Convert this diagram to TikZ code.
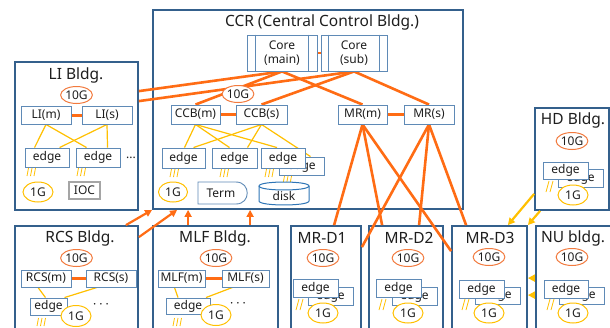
\documentclass[tikz,border=0pt]{standalone}
\usepackage{fontspec}
\setmainfont{Noto Sans}
\usetikzlibrary{shapes.geometric,arrows.meta,calc}
\definecolor{bldblue}{RGB}{52,96,140}
\definecolor{boxblue}{RGB}{95,138,182}
\definecolor{orng}{RGB}{255,108,20}
\definecolor{or10}{RGB}{242,122,62}
\definecolor{gold}{RGB}{255,192,0}
\definecolor{diskblue}{RGB}{46,117,182}
\definecolor{iocgray}{RGB}{165,165,165}
\definecolor{txt}{RGB}{30,30,30}
\pgfdeclarelayer{bldg}
\pgfdeclarelayer{lines}
\pgfsetlayers{bldg,lines,main}
\begin{document}
\begin{tikzpicture}[x=1pt,y=-1pt,
  bld/.style={draw=bldblue, line width=1.8pt, fill=white, inner sep=0pt},
  sbox/.style={draw=boxblue, line width=0.9pt, fill=white, inner sep=0pt, text=txt, font=\fontsize{12}{13}\selectfont},
  ttl/.style={inner sep=0pt, text=txt, font=\fontsize{15.5}{17}\selectfont},
  lbl/.style={inner sep=0pt, text=txt, font=\fontsize{12}{13}\selectfont},
  g10/.style={ellipse, draw=or10, line width=1pt, fill=white, minimum width=30pt, minimum height=17pt, inner sep=0pt, text=txt, font=\fontsize{12}{13}\selectfont},
  g1/.style={ellipse, draw=gold, line width=1pt, fill=white, minimum width=30pt, minimum height=20pt, inner sep=0pt, text=txt, font=\fontsize{12}{13}\selectfont},
  oline/.style={draw=orng, line width=2.6pt},
  olink/.style={draw=orng, line width=3pt},
  yline/.style={draw=gold, line width=1.2pt},
  hashl/.style={draw=gold, line width=0.8pt},
  oarrow/.style={draw=orng, line width=2.2pt, -{Triangle[length=7pt,width=7pt]}},
  yarrow/.style={draw=gold, line width=2.2pt, -{Triangle[length=7pt,width=7pt]}},
  hashA/.pic={\draw[hashl] (0,8)--(1.5,0) (3.5,8)--(5,0) (7,8)--(8.5,0);},
  hashB/.pic={\draw[hashl] (0,11)--(3,0) (4,11)--(7,0);}
]
\useasboundingbox (0,0) rectangle (610,327);
% ---------------- buildings
\begin{pgfonlayer}{bldg}
\node[bld, minimum width=310pt, minimum height=199pt] (ccr) at (308,109.5) {};
\node[bld, minimum width=123pt, minimum height=148pt] (li) at (76.5,136) {};
\node[bld, minimum width=74pt, minimum height=102pt] (hd) at (572,159) {};
\node[bld, minimum width=123pt, minimum height=110pt] (rcs) at (76.5,281) {};
\node[bld, minimum width=125pt, minimum height=110pt] (mlf) at (215.5,281) {};
\node[bld, minimum width=70pt, minimum height=110pt] (mrda) at (326,281) {};
\node[bld, minimum width=74pt, minimum height=110pt] (mrdb) at (406,281) {};
\node[bld, minimum width=75pt, minimum height=110pt] (mrdc) at (489.5,281) {};
\node[bld, minimum width=75pt, minimum height=110pt] (nu) at (573.5,281) {};
\end{pgfonlayer}
% ---------------- titles
\node[ttl] (ccrT) at (322,22) {CCR (Central Control Bldg.)};
\node[ttl] (liT) at (76,75) {LI Bldg.};
\node[ttl] (hdT) at (573,120) {HD Bldg.};
\node[ttl] (rcsT) at (80,238) {RCS Bldg.};
\node[ttl] (mlfT) at (215,238) {MLF Bldg.};
\node[ttl] (mraT) at (322,238) {MR-D1};
\node[ttl] (mrbT) at (409,238) {MR-D2};
\node[ttl] (mrcT) at (490,238) {MR-D3};
\node[ttl] (nuT) at (573,238) {NU bldg.};
% ---------------- CCR contents
\node[sbox, minimum width=70pt, minimum height=36pt, align=center, font=\fontsize{12}{14}\selectfont] (coreM) at (282,53) {Core\\(main)};
\node[sbox, minimum width=66pt, minimum height=36pt, align=center, font=\fontsize{12}{14}\selectfont] (coreS) at (354,53) {Core\\(sub)};
\draw[draw=boxblue, line width=0.9pt] ($(coreM.north west)+(9,0)$) -- ($(coreM.south west)+(9,0)$)
  ($(coreM.north east)+(-9,0)$) -- ($(coreM.south east)+(-9,0)$)
  ($(coreS.north west)+(8,0)$) -- ($(coreS.south west)+(8,0)$)
  ($(coreS.north east)+(-8,0)$) -- ($(coreS.south east)+(-8,0)$);
\node[sbox, minimum width=49pt, minimum height=19pt] (ccbM) at (195.5,114.5) {CCB(m)};
\node[sbox, minimum width=51pt, minimum height=19pt] (ccbS) at (261.5,114.5) {CCB(s)};
\node[sbox, minimum width=49pt, minimum height=19pt] (mrM) at (362.5,114.5) {MR(m)};
\node[sbox, minimum width=50pt, minimum height=19pt] (mrS) at (429,114.5) {MR(s)};
\node[g10] (ccrG) at (238,94) {10G};
\node[sbox, minimum width=43pt, minimum height=20pt] (ccrEa) at (183.5,158) {edge};
\node[sbox, minimum width=45pt, minimum height=20pt] (ccrEb) at (234.5,158) {edge};
\node[sbox, minimum width=45pt, minimum height=18pt] (ccrEd) at (301.5,166) {edge};
\node[sbox, minimum width=44pt, minimum height=20pt] (ccrEc) at (283,158) {edge};
\pic at (170,169) {hashA};
\pic at (220,169) {hashA};
\pic at (265,169) {hashA};
\pic at (283,176) {hashA};
\node[g1, minimum width=29pt] (ccr1G) at (173,192) {1G};
\draw[draw=boxblue, line width=0.9pt, fill=white] (198,182) -- (236,182) .. controls (251,182) and (251,204) .. (236,204) -- (198,204) -- cycle;
\node[lbl] (term) at (221,193) {Term};
\draw[draw=diskblue, line width=1pt, fill=white] (259,186) -- (259,201) .. controls (259,206.3) and (309,206.3) .. (309,201) -- (309,186) .. controls (309,180.7) and (259,180.7) .. (259,186) -- cycle;
\draw[draw=diskblue, line width=1pt] (259,186) .. controls (259,191.3) and (309,191.3) .. (309,186);
\node[lbl] (disk) at (284,196) {disk};
% ---------------- LI contents
\node[g10] (liG) at (76.5,95) {10G};
\node[sbox, minimum width=50pt, minimum height=18pt] (liM) at (46,115) {LI(m)};
\node[sbox, minimum width=50pt, minimum height=18pt] (liS) at (107,115) {LI(s)};
\node[sbox, minimum width=44pt, minimum height=19pt] (liEa) at (47,157.5) {edge};
\node[sbox, minimum width=44pt, minimum height=19pt] (liEb) at (98,157.5) {edge};
\node[lbl] (liDots) at (131,158) {...};
\pic at (27,168) {hashA};
\pic at (77,168) {hashA};
\node[g1] (li1G) at (38,192) {1G};
\node[draw=iocgray, line width=2pt, fill=white, minimum width=31pt, minimum height=17pt, inner sep=0pt, text=txt, font=\fontsize{12}{13}\selectfont] (ioc) at (84.5,190.5) {IOC};
% ---------------- RCS contents
\node[g10] (rcsG) at (76.5,258) {10G};
\node[sbox, minimum width=50pt, minimum height=17pt] (rcsM) at (46,278.5) {RCS(m)};
\node[sbox, minimum width=50pt, minimum height=17pt] (rcsS) at (111,278.5) {RCS(s)};
\node[sbox, minimum width=37pt, minimum height=17pt] (rcsE) at (48.5,306.5) {edge};
\pic at (37,318) {hashA};
\node[g1, minimum height=21pt] (rcs1G) at (76,316) {1G};
\node[lbl] (rcsDots) at (101,306) {· · ·};
% ---------------- MLF contents
\node[g10] (mlfG) at (216,258) {10G};
\node[sbox, minimum width=47pt, minimum height=17pt] (mlfM) at (181.5,278.5) {MLF(m)};
\node[sbox, minimum width=47pt, minimum height=17pt] (mlfS) at (245.5,278.5) {MLF(s)};
\node[sbox, minimum width=44pt, minimum height=16pt] (mlfE) at (188,306) {edge};
\pic at (173,318) {hashA};
\node[g1, minimum height=21pt] (mlf1G) at (216,315) {1G};
\node[lbl] (mlfDots) at (238,305) {· · ·};
% ---------------- MR-D1
\node[g10] (mraG) at (323,258) {10G};
\node[sbox, minimum width=45pt, minimum height=18pt] (mraEb) at (330.5,296) {edge};
\node[sbox, minimum width=45pt, minimum height=18pt] (mraEa) at (315.5,288) {edge};
\pic at (296,299) {hashB};
\node[g1] (mra1G) at (323,313) {1G};
% ---------------- MR-D2
\node[g10] (mrbG) at (408,258) {10G};
\node[sbox, minimum width=45pt, minimum height=18pt] (mrbEb) at (414.5,296) {edge};
\node[sbox, minimum width=45pt, minimum height=18pt] (mrbEa) at (398.5,288) {edge};
\pic at (379,299) {hashB};
\node[g1] (mrb1G) at (408,313) {1G};
% ---------------- MR-D3
\node[g10] (mrcG) at (489,257) {10G};
\node[sbox, minimum width=45pt, minimum height=17pt] (mrcEb) at (497.5,295.5) {edge};
\node[sbox, minimum width=45pt, minimum height=18pt] (mrcEa) at (481.5,289) {edge};
\pic at (462,299) {hashB};
\node[g1] (mrc1G) at (489,313) {1G};
% ---------------- NU
\node[g10] (nuG) at (572,257) {10G};
\node[sbox, minimum width=45pt, minimum height=17pt] (nuEb) at (581.5,295.5) {edge};
\node[sbox, minimum width=44pt, minimum height=18pt] (nuEa) at (566,289) {edge};
\pic at (547,299) {hashB};
\node[g1] (nu1G) at (573,313) {1G};
% ---------------- HD
\node[g10] (hdG) at (572,141) {10G};
\node[sbox, minimum width=45pt, minimum height=18pt] (hdEb) at (580.5,178) {edge};
\node[sbox, minimum width=45pt, minimum height=17pt] (hdEa) at (565.5,170.5) {edge};
\pic at (546,181) {hashB};
\node[g1] (hd1G) at (573,195) {1G};
% ---------------- connectors
\begin{pgfonlayer}{lines}
% orange backbone
\draw[oline] ($(li.north east)+(0,30)$) -- (coreM.south);
\draw[oline] ($(li.north east)+(0,40)$) -- (coreS.south);
\draw[oline] (coreM.south) -- (ccbM.north);
\draw[oline] (coreM.south) -- (mrM.north);
\draw[oline] (coreS.south) -- (ccbS.north);
\draw[oline] (coreS.south) -- (mrS.north);
\draw[draw=orng, line width=1.6pt] (coreM.east) -- (coreS.west);
\draw[olink] (ccbM.east) -- (ccbS.west);
\draw[olink] (mrM.east) -- (mrS.west);
\draw[olink] (liM.east) -- (liS.west);
\draw[olink] (rcsM.east) -- (rcsS.west);
\draw[olink] (mlfM.east) -- (mlfS.west);
\draw[oline] (mrM.south) -- ($(mrda.north west)+(44,0)$);
\draw[oline] (mrM.south) -- ($(mrdb.north west)+(14,0)$);
\draw[oline] (mrM.south) -- ($(mrdc.north west)+(0,26)$);
\draw[oline] (mrS.south) -- ($(mrda.north east)+(0,22)$);
\draw[oline] (mrS.south) -- ($(mrdb.north west)+(51,0)$);
\draw[oline] (mrS.south) -- ($(mrdc.north west)+(15,0)$);
% orange arrows into CCR
\draw[oarrow] ($(rcs.north east)+(-13,0)$) -- (ccr.south west);
\draw[oarrow] ($(rcs.north east)+(0,12)$) -- ($(ccr.south west)+(25,0)$);
\draw[oarrow] ($(mlf.north west)+(36,0)$) -- ($(ccr.south west)+(36,0)$);
\draw[oarrow] ($(mlf.north west)+(98,0)$) -- ($(ccr.south west)+(98,0)$);
% yellow arrows into MR-D3
\draw[yarrow] ($(hd.south west)+(0,-17)$) -- ($(mrdc.north east)+(-20,0)$);
\draw[yarrow] ($(hd.south west)+(6,0)$) -- (mrdc.north east);
\draw[yarrow] ($(nu.north west)+(0,53)$) -- ($(mrdc.north east)+(0,53)$);
\draw[yarrow] ($(nu.north west)+(0,70)$) -- ($(mrdc.north east)+(0,70)$);
% yellow 1G links
\draw[yline] (ccbM.south) -- ($(ccrEa.north)+(1,0)$);
\draw[yline] (ccbM.south) -- ($(ccrEb.north)+(-5,0)$);
\draw[yline] (ccbM.south) -- ($(ccrEc.north)+(-6,0)$);
\draw[yline] (ccbS.south) -- ($(ccrEa.north)+(10,0)$);
\draw[yline] (ccbS.south) -- ($(ccrEb.north)+(13,0)$);
\draw[yline] (ccbS.south) -- ($(ccrEd.north)+(9,0)$);
\draw[yline] (liM.south) -- ($(liEa.north west)+(10,0)$);
\draw[yline] (liM.south) -- ($(liEb.north west)+(11,0)$);
\draw[yline] (liS.south) -- ($(liEa.north west)+(35,0)$);
\draw[yline] (liS.south) -- ($(liEb.north west)+(32,0)$);
\draw[yline] ($(rcsM.south)+(-8,0)$) -- ($(rcsE.north)+(-3,0)$);
\draw[yline] ($(rcsS.south)+(-14,0)$) -- ($(rcsE.north)+(16,0)$);
\draw[yline] ($(mlfM.south)+(-7,0)$) -- ($(mlfE.north)+(-10,0)$);
\draw[yline] ($(mlfS.south)+(-13,0)$) -- ($(mlfE.north)+(18,0)$);
\end{pgfonlayer}
\end{tikzpicture}
\end{document}
